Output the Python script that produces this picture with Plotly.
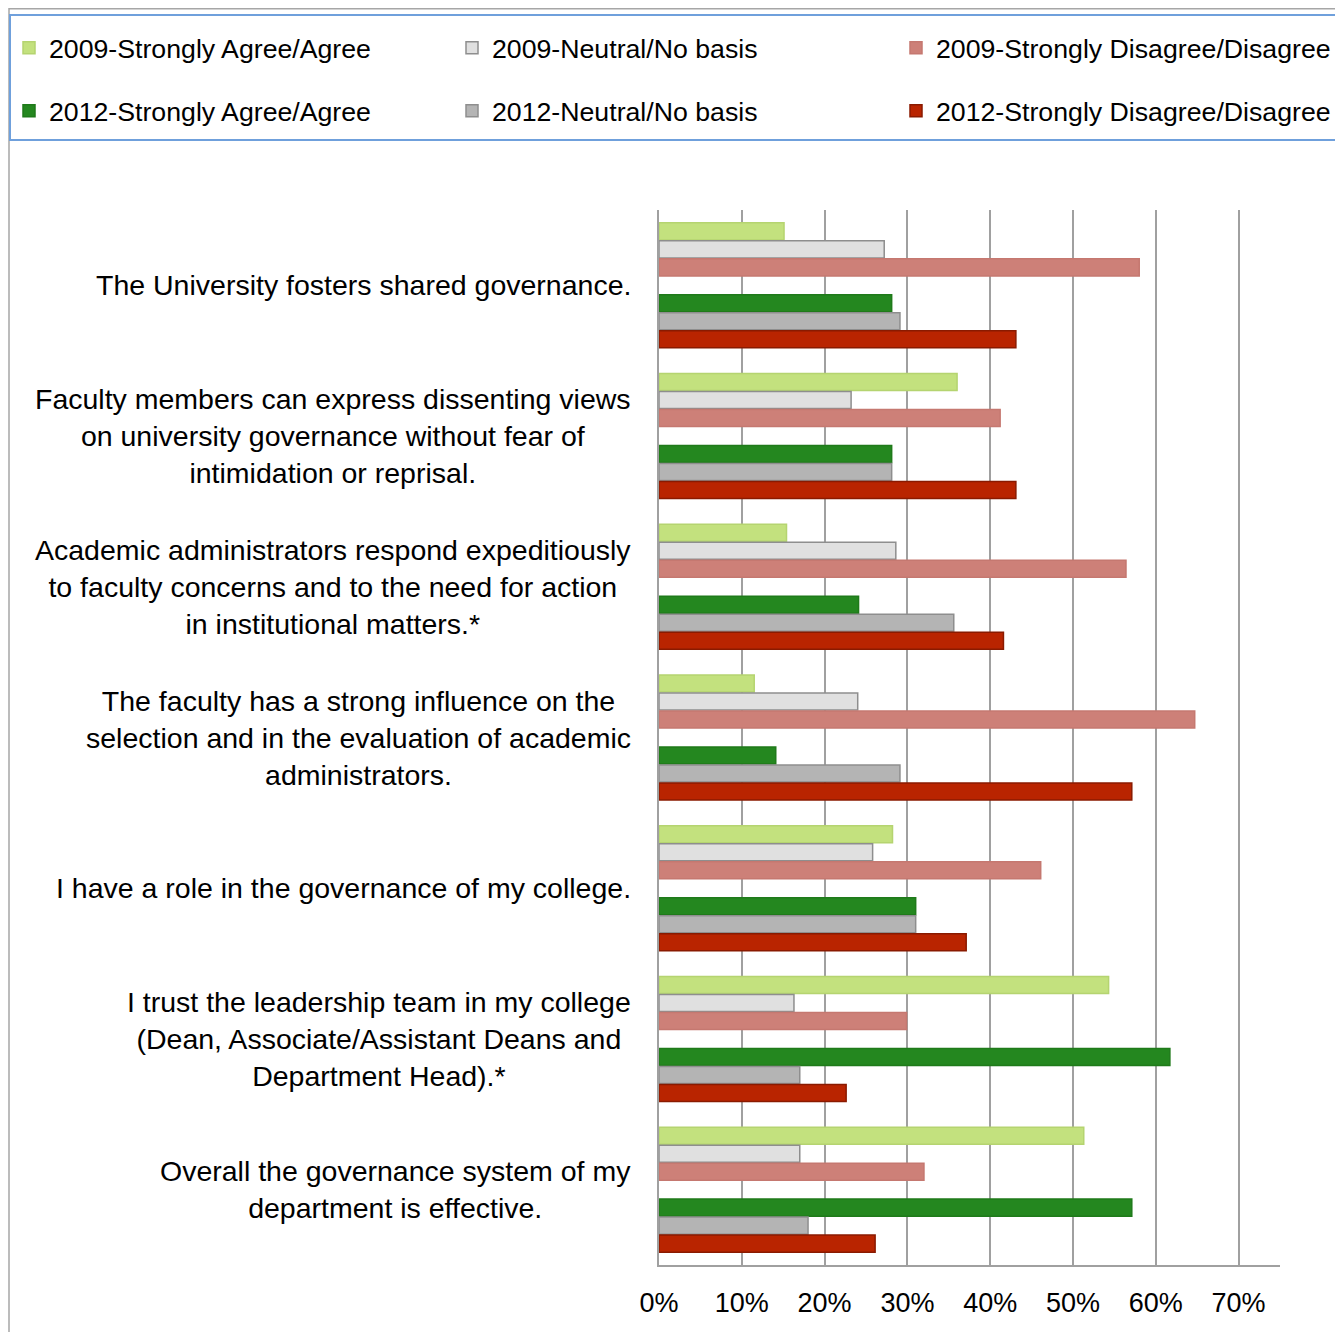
import plotly.graph_objects as go

categories = [
    "The University fosters shared governance.",
    "Faculty members can express dissenting views<br>on university governance without fear of<br>intimidation or reprisal.",
    "Academic administrators respond expeditiously<br>to faculty concerns and to the need for action<br>in institutional matters.*",
    "The faculty has a strong influence on the<br>selection and in the evaluation of academic<br>administrators.",
    "I have a role in the governance of my college.",
    "I trust the leadership team in my college<br>(Dean, Associate/Assistant Deans and<br>Department Head).*",
    "Overall the governance system of my<br>department is effective.",
]

series_names = [
    "2009-Strongly Agree/Agree",
    "2009-Neutral/No basis",
    "2009-Strongly Disagree/Disagree",
    "2012-Strongly Agree/Agree",
    "2012-Neutral/No basis",
    "2012-Strongly Disagree/Disagree",
]

agree_2009 = [0.151, 0.360, 0.154, 0.115, 0.282, 0.543, 0.513]
neutral_2009 = [0.272, 0.232, 0.286, 0.240, 0.258, 0.163, 0.170]
disagree_2009 = [0.580, 0.412, 0.564, 0.647, 0.461, 0.299, 0.320]
agree_2012 = [0.281, 0.281, 0.241, 0.141, 0.310, 0.617, 0.571]
neutral_2012 = [0.291, 0.281, 0.356, 0.291, 0.310, 0.170, 0.180]
disagree_2012 = [0.431, 0.431, 0.416, 0.571, 0.371, 0.226, 0.261]

x_ticks = [0, 0.1, 0.2, 0.3, 0.4, 0.5, 0.6, 0.7]
x_tick_labels = ["0%", "10%", "20%", "30%", "40%", "50%", "60%", "70%"]

values = [agree_2009, neutral_2009, disagree_2009, agree_2012, neutral_2012, disagree_2012]
fills = ["#C3E17E", "#E0E0E0", "#CD8078", "#24871F", "#B4B4B4", "#B92400"]
lines = ["#B5D470", "#8E8E8E", "#C57870", "#1F7A1A", "#8E8E8E", "#8A1A00"]
slots = [-3, -2, -1, 1, 2, 3]

# page has an 8px body margin; layout is designed in screen pixels
OFF = 8
W, H = 1335, 1324
L = 659 - OFF
T = 210 - OFF
R = W - (1280 - OFF)
B = H - (1265 - OFF)
pw, ph = W - L - R, H - T - B

def px(x):
    return (x - OFF - L) / pw

def py(y):
    return (H - B - (y - OFF)) / ph

slot = 0.1194
bw = 0.113

FONT = "Liberation Sans, Arial, Helvetica, sans-serif"

legend_ids = ["legend", "legend2", "legend3", "legend4", "legend5", "legend6"]
legend_x = [9, 452, 896, 9, 452, 896]
legend_y = [48, 48, 48, 111, 111, 111]

fig = go.Figure()
for name, vals, fc, lc, k, lg in zip(series_names, values, fills, lines, slots, legend_ids):
    fig.add_trace(go.Bar(
        y=categories, x=vals, name=name, orientation="h",
        marker=dict(color=fc, line=dict(color=lc, width=1.5)),
        width=bw, offset=k * slot - bw / 2, legend=lg, showlegend=True,
    ))

for c in categories:
    fig.add_annotation(
        text=c, x=px(633), xref="paper", y=c, yref="y",
        xanchor="right", yanchor="middle", align="center",
        showarrow=False, font=dict(size=28.5, color="#000000", family=FONT),
    )

# outer border and legend box
fig.add_shape(type="rect", xref="paper", yref="paper",
              x0=px(OFF + 1), x1=px(1342), y0=py(1345), y1=py(OFF + 0.8),
              line=dict(color="#A6A6A6", width=1.5), layer="below")
fig.add_shape(type="rect", xref="paper", yref="paper",
              x0=px(10), x1=px(1341), y0=py(140), y1=py(15),
              line=dict(color="#6FA0DC", width=2), layer="below")

legend_common = dict(
    orientation="h", xanchor="left", yanchor="middle",
    font=dict(size=26.7, color="#000000", family=FONT),
    bgcolor="rgba(0,0,0,0)", borderwidth=0, itemclick=False,
)

layout_legends = {
    lid: dict(x=px(lx), y=py(ly), **legend_common)
    for lid, lx, ly in zip(legend_ids, legend_x, legend_y)
}

fig.update_layout(
    width=W, height=H,
    margin=dict(l=L, r=R, t=T, b=B, pad=0, autoexpand=False),
    paper_bgcolor="white", plot_bgcolor="white",
    barmode="overlay", showlegend=True,
    font=dict(family=FONT, size=26, color="#000000"),
    xaxis=dict(
        range=[0, 0.75], tickvals=x_ticks, ticktext=x_tick_labels,
        showgrid=True, gridcolor="#A0A0A0", gridwidth=1.5,
        showline=True, linecolor="#A0A0A0", linewidth=2,
        zeroline=False, ticks="", ticklabelstandoff=13,
        tickfont=dict(size=27, color="#000000", family=FONT),
        fixedrange=True, automargin=False,
    ),
    yaxis=dict(
        autorange="reversed", showticklabels=False, ticks="",
        showgrid=False, showline=True, linecolor="#A0A0A0", linewidth=2,
        fixedrange=True, automargin=False,
    ),
    **layout_legends,
)

fig.write_html("out.html")
